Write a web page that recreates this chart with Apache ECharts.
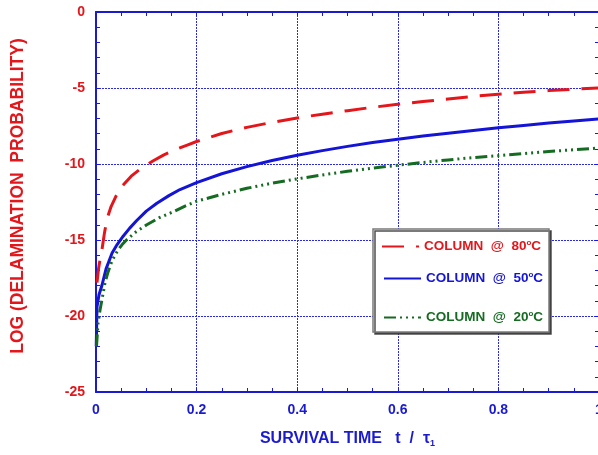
<!DOCTYPE html>
<html>
<head>
<meta charset="utf-8">
<script src="https://cdn.jsdelivr.net/npm/echarts@6/dist/echarts.min.js"></script>
<style>
  html, body { margin: 0; padding: 0; background: #fff; }
  #chart { width: 598px; height: 455px; }
</style>
</head>
<body>
<div id="chart"></div>
<script>
// Survival time t / tau1 and log delamination probability per column temperature
const t80 = [0.002, 0.005, 0.008, 0.012, 0.017, 0.022, 0.03, 0.04, 0.052, 0.07, 0.091, 0.113, 0.135, 0.157, 0.18, 0.2,
  0.25, 0.3, 0.35, 0.4, 0.45, 0.5, 0.55, 0.6, 0.65, 0.7, 0.75, 0.8, 0.85, 0.9, 0.95, 1.0];
const logP80 = [-17.8, -16.9, -16.3, -15.6, -14.5, -13.6, -12.8, -12.1, -11.45, -10.8, -10.25, -9.8, -9.4, -9.07, -8.77, -8.52,
  -7.99, -7.59, -7.26, -6.97, -6.72, -6.49, -6.27, -6.07, -5.89, -5.72, -5.55, -5.41, -5.28, -5.17, -5.08, -5.0];

const t50 = [0.0005, 0.002, 0.006, 0.012, 0.02, 0.032, 0.042, 0.054, 0.067, 0.081, 0.1, 0.121, 0.145, 0.167, 0.2,
  0.25, 0.3, 0.35, 0.4, 0.45, 0.5, 0.55, 0.6, 0.65, 0.7, 0.75, 0.8, 0.85, 0.9, 0.95, 1.0];
const logP50 = [-22.0, -19.4, -18.6, -17.96, -16.9, -15.86, -15.3, -14.75, -14.22, -13.72, -13.1, -12.58, -12.08, -11.68, -11.23,
  -10.64, -10.17, -9.77, -9.42, -9.12, -8.84, -8.59, -8.37, -8.16, -7.97, -7.79, -7.62, -7.46, -7.31, -7.17, -7.04];

const t20 = [0.001, 0.004, 0.008, 0.012, 0.018, 0.024, 0.032, 0.042, 0.052, 0.062, 0.08, 0.101, 0.125, 0.153, 0.175, 0.2,
  0.25, 0.3, 0.35, 0.4, 0.45, 0.5, 0.55, 0.6, 0.65, 0.7, 0.75, 0.8, 0.85, 0.9, 0.95, 1.0];
const logP20 = [-22.0, -20.5, -19.6, -18.9, -17.8, -17.1, -16.35, -15.75, -15.3, -14.95, -14.45, -14.0, -13.55, -13.15, -12.8, -12.45,
  -12.0, -11.6, -11.26, -10.98, -10.72, -10.48, -10.27, -10.08, -9.9, -9.73, -9.58, -9.45, -9.31, -9.18, -9.06, -8.95];

const seriesNames = ['COLUMN  @  80°C', 'COLUMN  @  50°C', 'COLUMN  @  20°C'];
const seriesColors = ['#e3161b', '#1414d6', '#166b22'];

const xTicks = { min: 0, max: 1, interval: 0.2 };
const yTicks = { min: -25, max: 0, interval: 5 };

const FONT = 'Liberation Sans';
const AXIS_BLUE = '#1a1ad0';
const LABEL_RED = '#e3161b';

function pairs(xs, ys) { return xs.map((x, i) => [x, ys[i]]); }

const chart = echarts.init(document.getElementById('chart'), null, { renderer: 'canvas' });

function legendFor(idx, left, top) {
  const color = seriesColors[idx];
  return {
    show: true,
    data: [seriesNames[idx]],
    left: left,
    top: top,
    padding: 0,
    itemWidth: 37,
    itemHeight: 14,
    z: 20,
    itemStyle: { color: 'rgba(0,0,0,0)', borderWidth: 0, opacity: 0 },
    formatter: function (name) {
      const parts = name.split('°');
      return '{t|' + parts[0] + '}{s|o}{t|' + parts[1] + '}';
    },
    textStyle: {
      rich: {
        t: { color: color, fontFamily: FONT, fontWeight: 'bold', fontSize: 13.5 },
        s: { color: color, fontFamily: FONT, fontWeight: 'bold', fontSize: 8, verticalAlign: 'top', padding: [0, 0, 7, 0] }
      }
    }
  };
}

const axisLineStyle = { color: AXIS_BLUE, width: 2 };
const tickStyle = { color: AXIS_BLUE, width: 1 };
const gridLineStyle = { color: '#2a2ae0', width: 1, type: [2, 1] };

const option = {
  animation: false,
  backgroundColor: '#fff',
  grid: { left: 96, top: 12, width: 503, height: 380, containLabel: false, outerBoundsMode: 'none' },
  legend: [
    legendFor(0, 381, 239),
    legendFor(1, 383, 271),
    legendFor(2, 383, 310)
  ],
  graphic: [{
    type: 'rect',
    z: 10,
    shape: { x: 373, y: 229, width: 176, height: 103 },
    style: {
      fill: '#fff', stroke: '#7a7a7a', lineWidth: 1.5,
      shadowColor: 'rgba(60,60,60,0.9)', shadowOffsetX: 2, shadowOffsetY: 2, shadowBlur: 0
    }
  }],
  xAxis: [{
    type: 'value',
    min: xTicks.min, max: xTicks.max, interval: xTicks.interval,
    name: 'SURVIVAL TIME   t  /  τ{sub|1}',
    nameLocation: 'middle',
    nameGap: 37,
    nameTextStyle: {
      color: AXIS_BLUE, fontFamily: FONT, fontWeight: 'bold', fontSize: 16,
      rich: { sub: { color: AXIS_BLUE, fontFamily: FONT, fontWeight: 'bold', fontSize: 9, verticalAlign: 'bottom', padding: [10, 0, 0, 0] } }
    },
    axisLine: { show: true, onZero: false, lineStyle: axisLineStyle },
    axisTick: { show: true, inside: true, length: 4, lineStyle: tickStyle },
    minorTick: { show: true, splitNumber: 4, length: 4, lineStyle: tickStyle },
    axisLabel: { color: AXIS_BLUE, fontFamily: FONT, fontWeight: 'bold', fontSize: 14, margin: 11 },
    splitLine: { show: true, lineStyle: gridLineStyle }
  }, {
    type: 'value', position: 'top',
    min: xTicks.min, max: xTicks.max, interval: xTicks.interval,
    axisLine: { show: true, onZero: false, lineStyle: axisLineStyle },
    axisTick: { show: true, inside: true, length: 4, lineStyle: tickStyle },
    minorTick: { show: true, splitNumber: 4, length: 4, lineStyle: tickStyle },
    axisLabel: { show: false },
    splitLine: { show: false }
  }],
  yAxis: [{
    type: 'value',
    min: yTicks.min, max: yTicks.max, interval: yTicks.interval,
    name: 'LOG (DELAMINATION  PROBABILITY)',
    nameLocation: 'middle',
    nameRotate: 90,
    nameGap: 69,
    nameTextStyle: { color: LABEL_RED, fontFamily: FONT, fontWeight: 'bold', fontSize: 17.5, padding: [0, 0, 0, 12] },
    axisLine: { show: true, onZero: false, lineStyle: axisLineStyle },
    axisTick: { show: true, inside: true, length: 4, lineStyle: tickStyle },
    minorTick: { show: true, splitNumber: 5, length: 4, lineStyle: tickStyle },
    axisLabel: { color: LABEL_RED, fontFamily: FONT, fontWeight: 'bold', fontSize: 14, margin: 11 },
    splitLine: { show: true, lineStyle: gridLineStyle }
  }, {
    type: 'value', position: 'right',
    min: yTicks.min, max: yTicks.max, interval: yTicks.interval,
    axisLine: { show: true, onZero: false, lineStyle: axisLineStyle },
    axisTick: { show: true, inside: true, length: 4, lineStyle: tickStyle },
    minorTick: { show: true, splitNumber: 5, length: 4, lineStyle: tickStyle },
    axisLabel: { show: false },
    splitLine: { show: false }
  }],
  series: [{
    name: seriesNames[0], type: 'line', data: pairs(t80, logP80),
    showSymbol: false, symbol: 'none',
    lineStyle: { color: seriesColors[0], width: 3, type: [22, 12] },
    itemStyle: { color: seriesColors[0] }
  }, {
    name: seriesNames[1], type: 'line', data: pairs(t50, logP50),
    showSymbol: false, symbol: 'none',
    lineStyle: { color: seriesColors[1], width: 3, type: 'solid' },
    itemStyle: { color: seriesColors[1] }
  }, {
    name: seriesNames[2], type: 'line', data: pairs(t20, logP20),
    showSymbol: false, symbol: 'none',
    lineStyle: { color: seriesColors[2], width: 3, type: [12, 4, 2, 4, 2, 4, 2, 4] },
    itemStyle: { color: seriesColors[2] }
  }]
};

chart.setOption(option);
</script>
</body>
</html>
